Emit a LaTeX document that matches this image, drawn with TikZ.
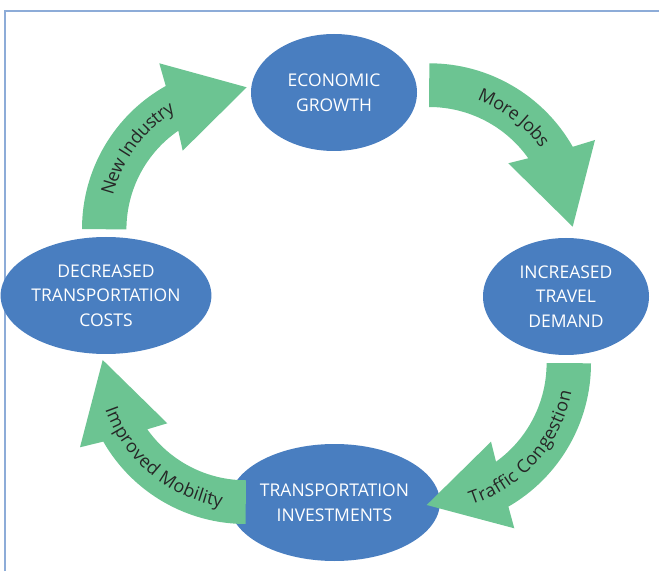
\documentclass[tikz,border=0pt]{standalone}
\usepackage{fontspec}
\setmainfont{Open Sans}
\usetikzlibrary{shapes.geometric,decorations.text}
\definecolor{cycleblue}{RGB}{73,126,192}
\definecolor{cyclegreen}{RGB}{108,196,146}
\definecolor{frameblue}{RGB}{141,172,216}
\tikzset{
  stage/.style = {
    ellipse, fill=cycleblue, text=white, inner sep=0pt,
    minimum width=166pt, minimum height=117pt, align=center,
    font=\fontsize{17.5}{24.5}\selectfont
  },
  flow/.style = {fill=cyclegreen},
  flowlabel/.style = {
    decorate,
    decoration={text along path, text align=center, raise=-6pt,
      text={|\fontsize{18}{21}\selectfont\color{black!85}|#1}}
  }
}

\begin{document}
\begin{tikzpicture}[x=1pt,y=1pt]
  \useasboundingbox (0,0) rectangle (659,571);
  % frame
  \draw[frameblue,line width=2pt] (5,0) -- (5,560) -- (659,560);
  % stages
  \node[stage] (growth) at (334,478.5)   {ECONOMIC\\GROWTH};
  \node[stage] (demand) at (566,274.5)   {INCREASED\\TRAVEL\\DEMAND};
  \node[stage] (invest) at (334.5,68.5)  {TRANSPORTATION\\INVESTMENTS};
  \node[stage] (costs)  at (106,275.5)   {DECREASED\\TRANSPORTATION\\COSTS};
  % arrows
  \fill[flow] (82,342) arc[start angle=180,end angle=119.3,radius=164]
    -- (159.3,507.7) -- (246.7,483.7) -- (182.7,420.3) -- (178.3,440.3)
    arc[start angle=124.6,end angle=180,radius=120] -- cycle;
  \fill[flow] (429.3,507.7) arc[start angle=90,end angle=29.6,radius=165]
    -- (595,431) -- (572.7,344.3) -- (508.3,407.7) -- (528.3,412.7)
    arc[start angle=35.3,end angle=90,radius=121.5] -- cycle;
  \fill[flow] (591,207.7) arc[start angle=0,end angle=-59.9,radius=165.7]
    -- (514.3,42.7) -- (426.7,66) -- (491,129.3) -- (496,109.3)
    arc[start angle=-54.3,end angle=0,radius=121.5] -- cycle;
  \fill[flow] (245.7,47) arc[start angle=-90,end angle=-150.1,radius=164.3]
    -- (80,123.7) -- (102.7,211) -- (167.3,147.7) -- (147.3,141.7)
    arc[start angle=-144.7,end angle=-90,radius=120.7] -- cycle;
  % labels
  \path[flowlabel=New Industry] (246,342) ++(183:143)
    arc[start angle=183,end angle=104,radius=143];
  \path[flowlabel=More Jobs] (429.3,342.7) ++(92:143)
    arc[start angle=92,end angle=13,radius=143];
  \path[flowlabel=Traffic Congestion] (425.3,207.7) ++(-81:143)
    arc[start angle=-81,end angle=-2,radius=143];
  \path[flowlabel=Improved Mobility] (245.7,211.3) ++(-175:143)
    arc[start angle=-175,end angle=-85,radius=143];
\end{tikzpicture}
\end{document}
